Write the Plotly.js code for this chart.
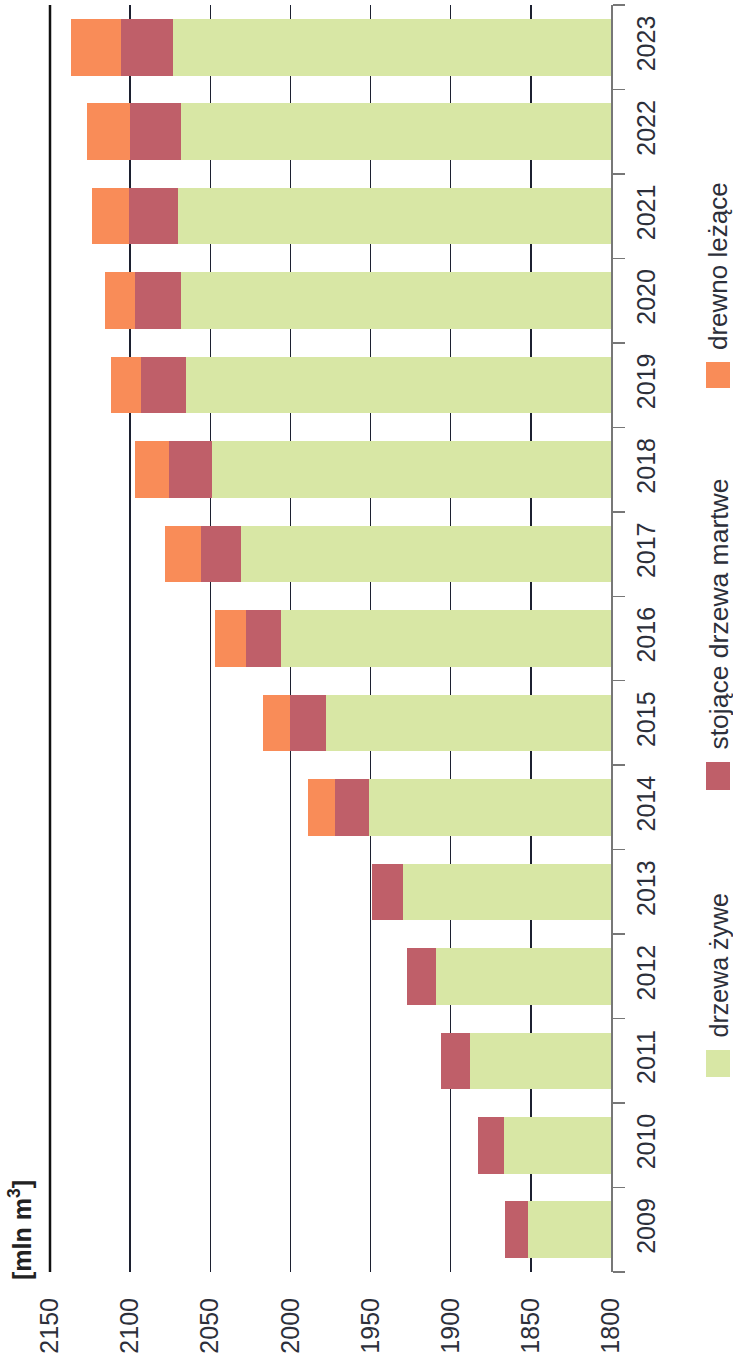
<!DOCTYPE html>
<html>
<head>
<meta charset="utf-8">
<script src="https://cdn.plot.ly/plotly-3.0.1.min.js"></script>
<style>html,body{margin:0;padding:0;background:#fff;}#chart{width:733px;height:1370px;}</style>
</head>
<body>
<div id="chart"></div>
<script>
var years = ["2009","2010","2011","2012","2013","2014","2015","2016","2017","2018","2019","2020","2021","2022","2023"];
var liveTrees = [1852, 1867, 1888, 1909, 1930, 1951, 1978, 2006, 2031, 2049, 2065, 2068, 2070, 2068, 2073];
var deadStanding = [14, 16, 18, 18, 19, 21, 22, 22, 25, 27, 28, 29, 31, 32, 33];
var lyingWood = [0, 0, 0, 0, 0, 17, 17, 19, 22, 21, 19, 19, 23, 27, 31];
var seriesNames = ["drzewa żywe", "stojące drzewa martwe", "drewno leżące"];
var axisTicks = [1800, 1850, 1900, 1950, 2000, 2050, 2100, 2150];
var unitLabel = "<b>[mln m<sup>3</sup>]</b>";

var colors = ["#d8e7a5", "#bf5f69", "#f98c58"];
var font = "Liberation Sans, Arial, sans-serif";
var textColor = "#2c2f3a";

var series = [liveTrees, deadStanding, lyingWood];
var traces = series.map(function (vals, i) {
  return {
    type: "bar", orientation: "h",
    y: years, x: vals, name: seriesNames[i],
    marker: {color: colors[i], line: {width: 0}},
    showlegend: false, hoverinfo: "skip"
  };
});

var L = 50, R = 611, T = 5, B = 1272, W = 733, H = 1370;
function px(x) { return (x - L) / (R - L); }
function py(y) { return (B - y) / (B - T); }

var legendSq = [[1050, 1077], [762, 790], [362, 388]];
var legendTextBottom = [1040, 752, 352];
var legendFontSize = [25, 26.5, 26];

var shapes = [{
  type: "line", xref: "paper", yref: "paper",
  x0: 0, x1: 0, y0: 0, y1: 1,
  line: {color: "#111", width: 2.5}
}];
var annotations = [{
  text: unitLabel, xref: "paper", yref: "paper",
  x: px(20), y: py(1230), xanchor: "center", yanchor: "middle",
  textangle: -90, showarrow: false,
  font: {family: font, size: 25, color: "#222"}
}];
for (var i = 0; i < 3; i++) {
  shapes.push({
    type: "rect", xref: "paper", yref: "paper",
    x0: px(706), x1: px(730), y0: py(legendSq[i][1]), y1: py(legendSq[i][0]),
    fillcolor: colors[i], line: {width: 0}
  });
  annotations.push({
    text: seriesNames[i], xref: "paper", yref: "paper",
    x: px(718), y: py(legendTextBottom[i]), xanchor: "center", yanchor: "bottom",
    textangle: -90, showarrow: false,
    font: {family: font, size: legendFontSize[i], color: textColor}
  });
}

var layout = {
  width: W, height: H,
  margin: {l: L, r: W - R, t: T, b: H - B, pad: 0},
  paper_bgcolor: "#fff", plot_bgcolor: "#fff",
  barmode: "stack", bargap: 0.33,
  showlegend: false,
  xaxis: {
    range: [2150, 1800], tickvals: axisTicks, ticktext: axisTicks.map(String),
    tickangle: -90, ticks: "", showgrid: true, gridcolor: "#1c2030", gridwidth: 1.5,
    zeroline: false, showline: false, ticklabelstandoff: 20,
    tickfont: {family: font, size: 25, color: textColor}
  },
  yaxis: {
    type: "category", categoryorder: "array", categoryarray: years,
    side: "right", showline: true, linecolor: "#777", linewidth: 1.5,
    ticks: "outside", ticklen: 12, tickcolor: "#777", tickwidth: 1.5, tickson: "boundaries",
    tickangle: -90, showgrid: false, zeroline: false, ticklabelstandoff: 12,
    tickfont: {family: font, size: 25, color: textColor}
  },
  shapes: shapes,
  annotations: annotations
};

Plotly.newPlot("chart", traces, layout, {staticPlot: true, displayModeBar: false});
</script>
</body>
</html>
